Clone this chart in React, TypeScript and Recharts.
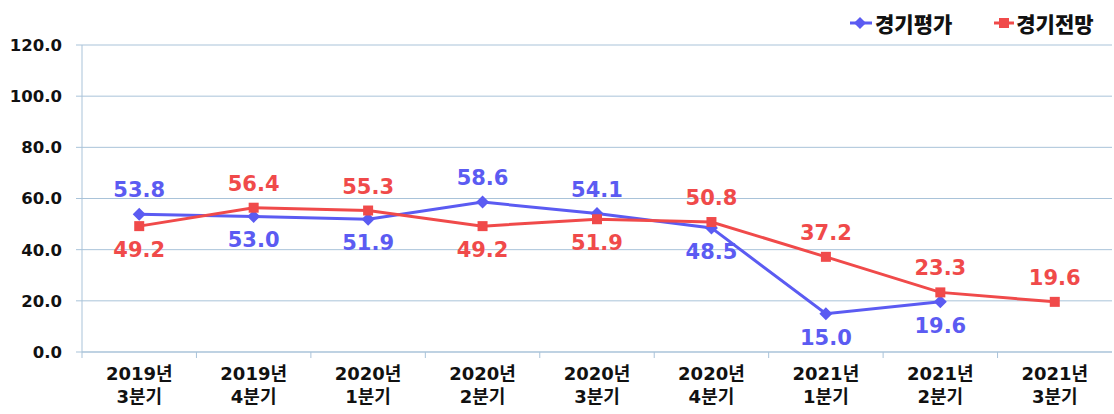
import React from 'react';
import { LineChart, Line, XAxis, YAxis, CartesianGrid, LabelList } from 'recharts';

const quarters = ['2019년 3분기', '2019년 4분기', '2020년 1분기', '2020년 2분기', '2020년 3분기', '2020년 4분기', '2021년 1분기', '2021년 2분기', '2021년 3분기'];
const evaluation = [53.8, 53.0, 51.9, 58.6, 54.1, 48.5, 15.0, 19.6, null];
const outlook = [49.2, 56.4, 55.3, 49.2, 51.9, 50.8, 37.2, 23.3, 19.6];
const yTicks = [0, 20, 40, 60, 80, 100, 120];

const BLUE = '#5b5bf2';
const RED = '#f04a4a';
const GRID = '#a9c3d9';
const NUM_FONT = '"DejaVu Sans", "Noto Sans CJK KR", sans-serif';
const KR_FONT = '"Noto Sans CJK KR", "DejaVu Sans", sans-serif';

const data = quarters.map((q, i) => ({ name: q, evaluation: evaluation[i], outlook: outlook[i] }));

const BAND = 1030 / quarters.length;

const XTick = (props: any) => {
  const { x, y, payload } = props;
  const [year, q] = String(payload.value).split(' ');
  return (
    <g>
      <line x1={x - BAND / 2} x2={x - BAND / 2} y1={y} y2={y + 6} stroke={GRID} />
      <text x={x} y={y + 28} textAnchor="middle" fontFamily={NUM_FONT} fontWeight={700} fontSize={18} fill="#111">{year}</text>
      <text x={x} y={y + 51} textAnchor="middle" fontFamily={NUM_FONT} fontWeight={700} fontSize={18} fill="#111">{q}</text>
    </g>
  );
};

const Diamond = (props: any) => {
  const { cx, cy, value } = props;
  if (value == null || cx == null) return null;
  const r = 6.5;
  return <polygon points={`${cx},${cy - r} ${cx + r},${cy} ${cx},${cy + r} ${cx - r},${cy}`} fill={BLUE} />;
};

const Square = (props: any) => {
  const { cx, cy, value } = props;
  if (value == null || cx == null) return null;
  return <rect x={cx - 5} y={cy - 5} width={10} height={10} fill={RED} />;
};

// label goes above when this series is the higher one (or the other is missing)
const makeLabel = (own: (number | null)[], other: (number | null)[], color: string) => (props: any) => {
  const { x, y, value, index } = props;
  if (value == null) return null;
  const o = other[index];
  const above = o == null || (own[index] as number) >= o;
  return (
    <text x={x} y={above ? y - 17 : y + 31} textAnchor="middle" fontFamily={NUM_FONT} fontWeight={700} fontSize={21} fill={color}>
      {Number(value).toFixed(1)}
    </text>
  );
};

const Legend = () => (
  <div style={{ position: 'absolute', top: 9, left: 848, display: 'flex', alignItems: 'center', fontFamily: KR_FONT, fontWeight: 900, fontSize: 21, color: '#111', lineHeight: '28px' }}>
    <svg width={27} height={14}>
      <line x1={2} x2={24} y1={7} y2={7} stroke={BLUE} strokeWidth={3} />
      <polygon points="12,1 18,7 12,13 6,7" fill={BLUE} />
    </svg>
    <span style={{ marginRight: 41 }}>경기평가</span>
    <svg width={23} height={14}>
      <line x1={1} x2={21} y1={7} y2={7} stroke={RED} strokeWidth={3} />
      <rect x={6} y={2} width={10} height={10} fill={RED} />
    </svg>
    <span>경기전망</span>
  </div>
);

export default function App() {
  return (
    <div style={{ position: 'absolute', left: 0, top: 0, width: 1114, height: 414, background: '#fff' }}>
      <LineChart width={1114} height={414} data={data} margin={{ top: 45, right: 2, left: 0, bottom: 0 }}>
        <CartesianGrid vertical={false} stroke={GRID} strokeWidth={1} />
        <XAxis
          dataKey="name"
          scale="band"
          height={62}
          tick={<XTick />}
          tickLine={false}
          tickSize={0}
          tickMargin={0}
          axisLine={{ stroke: GRID }}
          interval={0}
        />
        <YAxis
          width={82}
          domain={[0, 120]}
          ticks={yTicks}
          tickFormatter={(v: number) => v.toFixed(1)}
          tick={{ fontFamily: NUM_FONT, fontWeight: 700, fontSize: 16.5, fill: '#111' }}
          tickLine={{ stroke: GRID }}
          tickSize={6}
          tickMargin={14}
          axisLine={{ stroke: GRID }}
          interval={0}
        />
        <Line dataKey="evaluation" stroke={BLUE} strokeWidth={3} dot={<Diamond />} activeDot={false} isAnimationActive={false}>
          <LabelList dataKey="evaluation" content={makeLabel(evaluation, outlook, BLUE)} />
        </Line>
        <Line dataKey="outlook" stroke={RED} strokeWidth={3} dot={<Square />} activeDot={false} isAnimationActive={false}>
          <LabelList dataKey="outlook" content={makeLabel(outlook, evaluation, RED)} />
        </Line>
      </LineChart>
      <Legend />
    </div>
  );
}
